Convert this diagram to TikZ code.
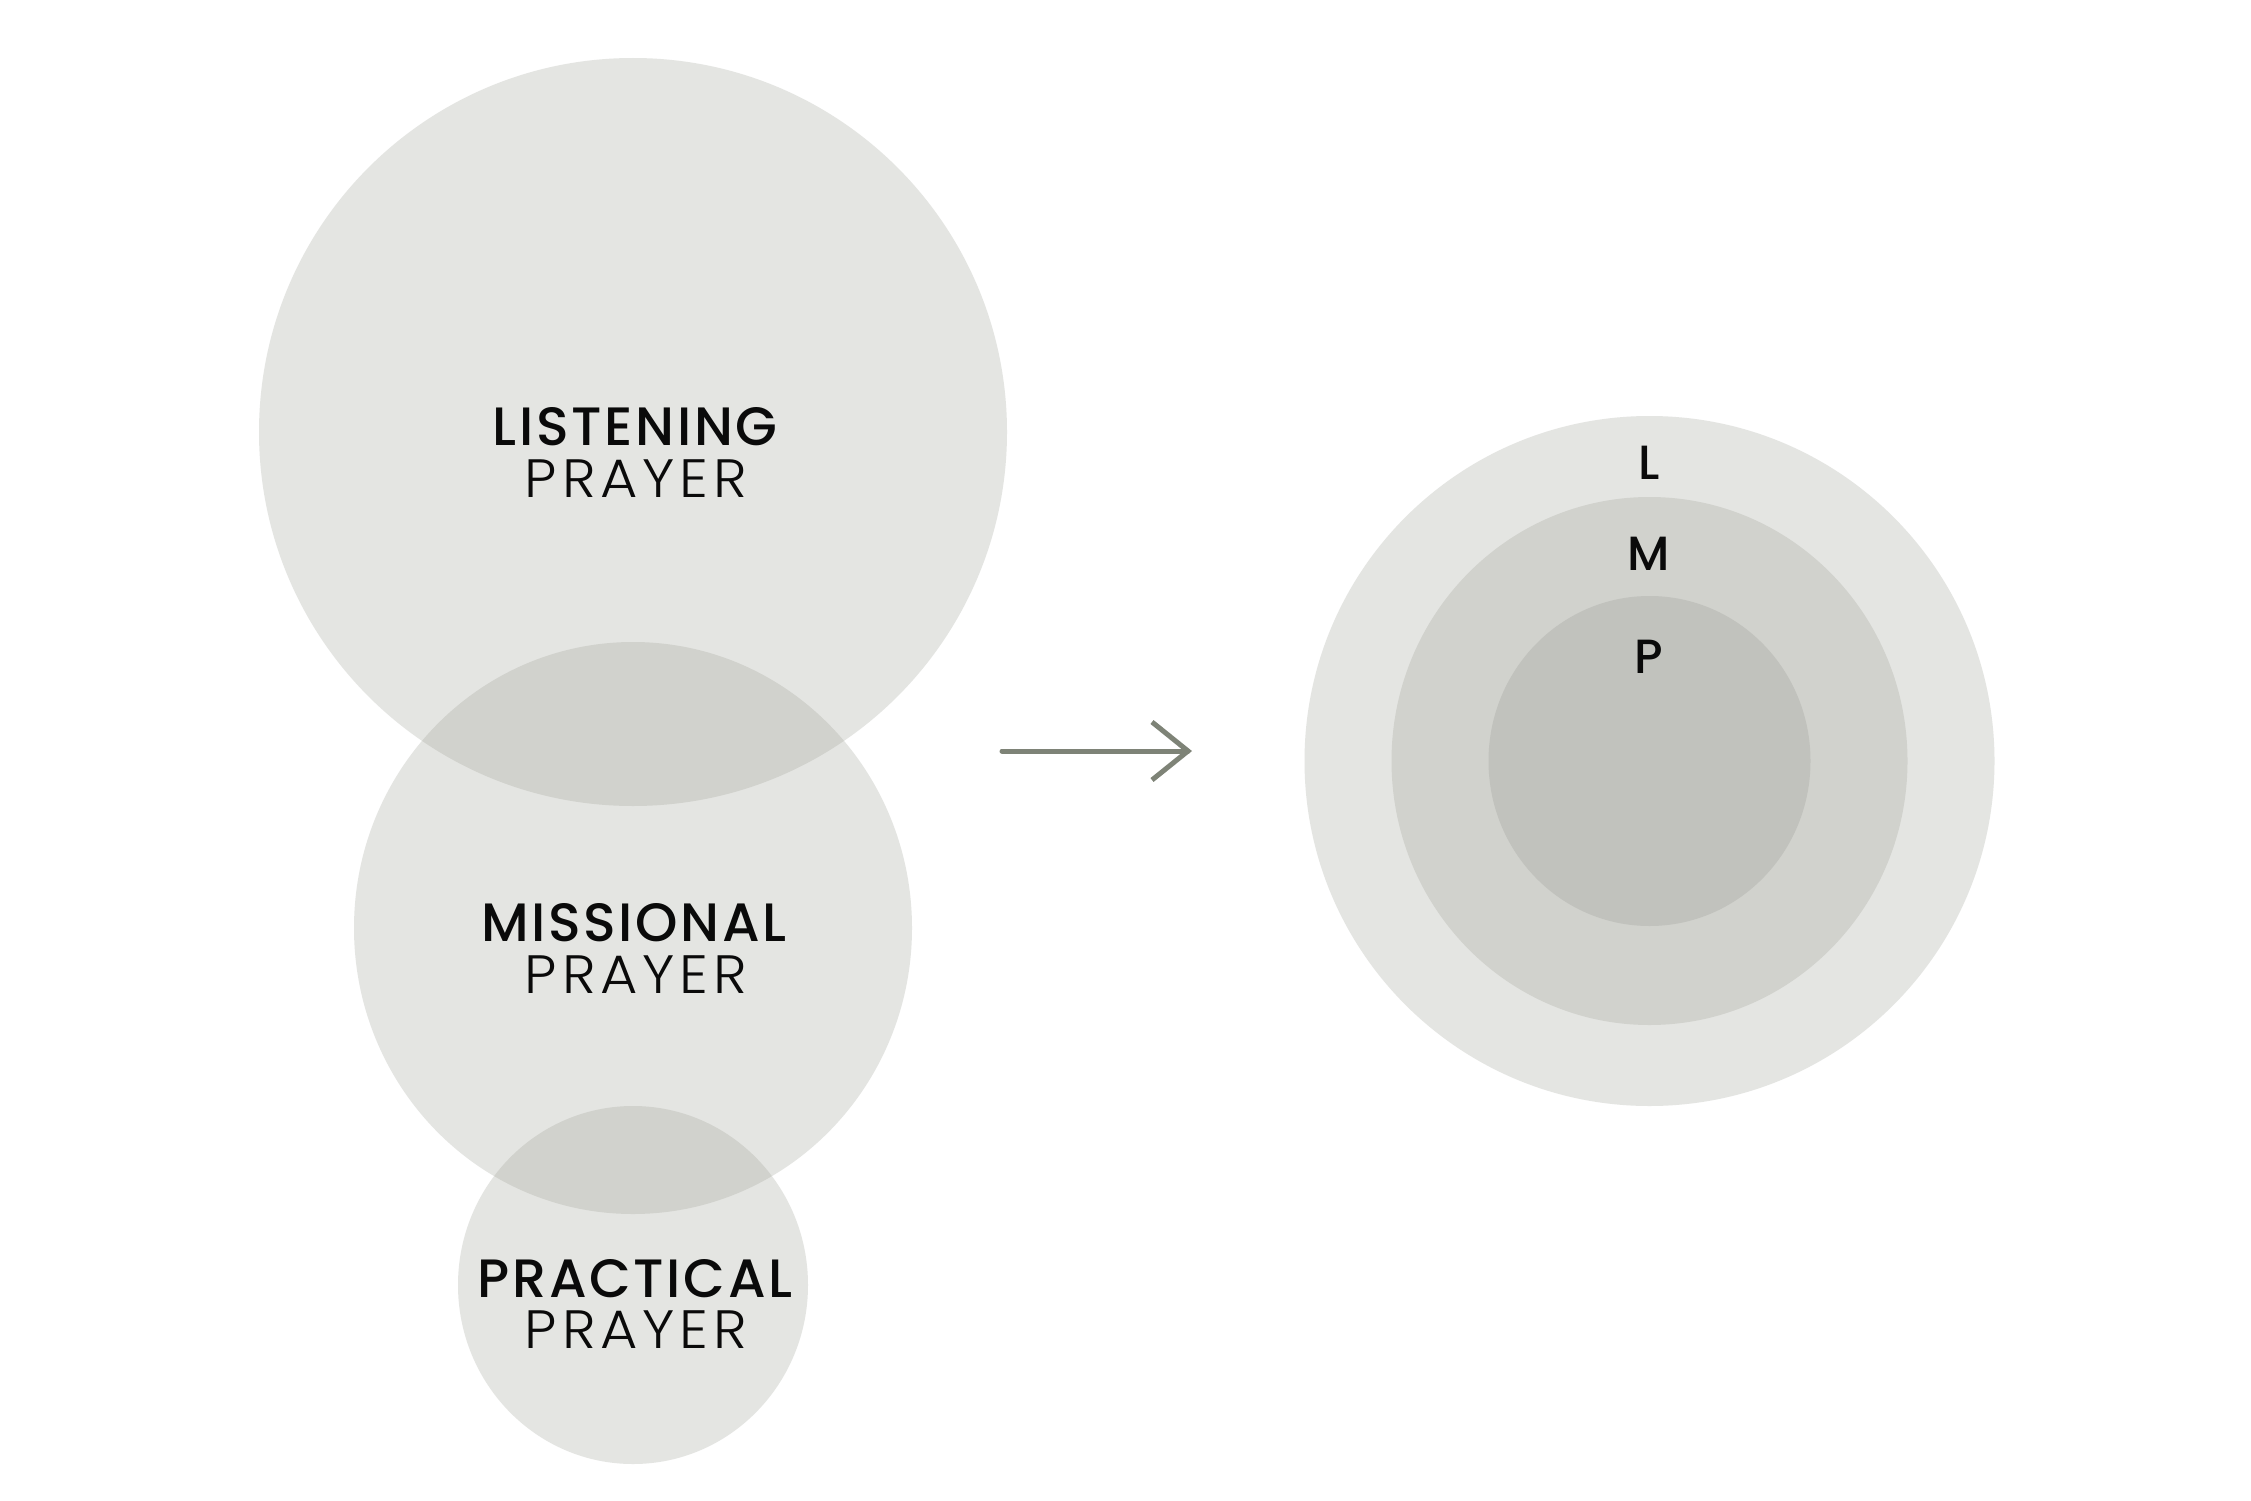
\documentclass[tikz,border=0pt]{standalone}
\usepackage{fontspec}
\usetikzlibrary{calc}
\newfontfamily\pbold{Poppins Medium}[LetterSpace=5]
\newfontfamily\pletter{Poppins Medium}
\newfontfamily\plight{Poppins Light}[LetterSpace=9,FakeStretch=1.06]
\definecolor{cLight}{HTML}{E4E5E2}
\definecolor{cMid}{HTML}{D1D2CD}
\definecolor{cDark}{HTML}{C1C2BD}
\definecolor{cArrow}{HTML}{7E8377}
\definecolor{cText}{HTML}{0A0A0A}
\tikzset{
  boldlbl/.style={anchor=base, inner sep=0pt, text=cText, font=\pbold\fontsize{54}{60}\selectfont},
  lightlbl/.style={anchor=base, inner sep=0pt, text=cText, font=\plight\fontsize{54}{60}\selectfont},
  letterlbl/.style={anchor=base, inner sep=0pt, text=cText, font=\pletter\fontsize{48}{54}\selectfont},
  arrowline/.style={draw=cArrow, line width=5pt},
}
\begin{document}
\begin{tikzpicture}[x=1pt,y=-1pt]
\useasboundingbox (0,0) rectangle (2251,1501);
\fill[white] (0,0) rectangle (2251,1501);
% left circles
\fill[cLight] (633,432) circle [radius=374pt];
\fill[cLight] (633,928) ellipse [x radius=279pt, y radius=286pt];
\fill[cLight] (633,1285) ellipse [x radius=175pt, y radius=179pt];
\begin{scope}
  \clip (633,432) circle [radius=374pt];
  \fill[cMid] (633,928) ellipse [x radius=279pt, y radius=286pt];
\end{scope}
\begin{scope}
  \clip (633,928) ellipse [x radius=279pt, y radius=286pt];
  \fill[cMid] (633,1285) ellipse [x radius=175pt, y radius=179pt];
\end{scope}
% labels
\node[boldlbl] (lis) at (635,445) {LISTENING};
\node[lightlbl] (lisp) at (636,497) {PRAYER};
\node[boldlbl] (mis) at (634,941) {MISSIONAL};
\node[lightlbl] (misp) at (636,993) {PRAYER};
\node[boldlbl] (pra) at (635,1297) {PRACTICAL};
\node[lightlbl] (prap) at (636,1348) {PRAYER};
% right circles
\fill[cLight] (1649.5,761) circle [radius=345pt];
\fill[cMid] (1649.5,761) ellipse [x radius=258pt, y radius=264pt];
\fill[cDark] (1649.5,761) ellipse [x radius=161pt, y radius=165pt];
\node[letterlbl] (L) at (1649,479) {L};
\node[letterlbl] (M) at (1649,570) {M};
\node[letterlbl] (P) at (1649,673) {P};
% arrow
\coordinate (astart) at (1002,751);
\coordinate (atip) at (1188,751);
\draw[arrowline, line cap=round] (astart) -- (atip);
\draw[arrowline, line cap=butt, miter limit=10] ($(atip)+(-36,-29)$) -- (atip) -- ($(atip)+(-36,29)$);
\end{tikzpicture}
\end{document}
